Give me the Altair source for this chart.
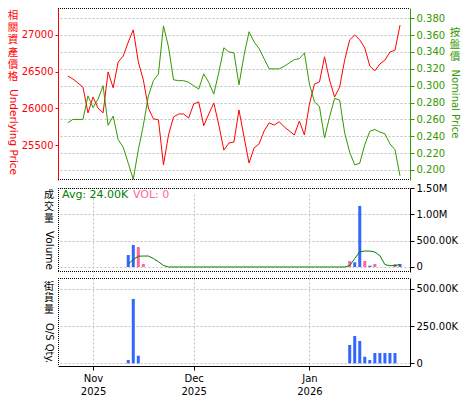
import altair as alt
import pandas as pd

# ---------------- data (weekday index 0 = 27 Oct 2025) ----------------
DAYS = list(range(67))
UNDERLYING = [26440, 26400, 26345, 26290, 25940, 26155, 26005, 25940, 26495, 26280,
              26630, 26710, 26900, 27065, 26630, 26385, 26005, 25860, 25845, 25235,
              25640, 25885, 25925, 25925, 25870, 26060, 26090, 25765, 25925, 26075,
              25775, 25435, 25530, 25545, 25980, 25615, 25260, 25465, 25520, 25695,
              25805, 25775, 25820, 25750, 25695, 25640, 25830, 25640, 26060, 26330,
              26360, 26700, 26385, 26155, 26290, 26655, 26930, 26995, 26930, 26820,
              26575, 26510, 26605, 26655, 26765, 26790, 27130]
NOMINAL = [0.256, 0.260, 0.260, 0.260, 0.288, 0.274, 0.284, 0.300, 0.253, 0.264,
           0.236, 0.227, 0.208, 0.189, 0.224, 0.253, 0.288, 0.306, 0.314, 0.371,
           0.346, 0.307, 0.306, 0.306, 0.304, 0.300, 0.296, 0.314, 0.304, 0.290,
           0.316, 0.345, 0.340, 0.339, 0.301, 0.336, 0.364, 0.352, 0.344, 0.332,
           0.320, 0.320, 0.320, 0.323, 0.327, 0.331, 0.332, 0.339, 0.302, 0.281,
           0.275, 0.238, 0.263, 0.285, 0.283, 0.244, 0.221, 0.206, 0.208, 0.230,
           0.246, 0.248, 0.245, 0.243, 0.231, 0.224, 0.193]

VOL_DAYS = [12, 13, 14, 15, 56, 57, 58, 59, 60, 61, 65, 66]
VOL_VALUES = [227000, 417000, 379000, 57000, 114000, 89000, 1160000, 114000, 25000, 57000, 57000, 57000]
VOL_DIR = ["up", "up", "down", "down", "down", "up", "up", "down", "up", "down", "down", "up"]

AVG_DAYS = list(range(12, 67))
AVG_VALUES = [57000, 140000, 205000, 208000, 208000, 161000, 100000, 30000] + [0] * 36 + \
             [28000, 160000, 290000, 303000, 303000, 284000, 215000, 45000, 25000, 25000, 50000]

QTY_DAYS = [12, 13, 14, 56, 57, 58, 59, 60, 61, 62, 63, 64, 65]
QTY_VALUES = [22000, 433000, 51000, 123000, 184000, 150000, 44000, 22000, 69000, 69000, 69000, 69000, 69000]

MONTH_TICKS = [5, 25, 48]
MONTH_LABELS = [["Nov", "2025"], ["Dec", "2025"], ["Jan", "2026"]]
UNDERLYING_TICKS = [25500, 26000, 26500, 27000]
NOMINAL_TICKS = [0.20, 0.22, 0.24, 0.26, 0.28, 0.30, 0.32, 0.34, 0.36, 0.38]
VOL_TICKS = [0, 500000, 1000000, 1500000]
VOL_TICK_LABELS = ["0", "500.00K", "1.00M", "1.50M"]
QTY_TICKS = [0, 250000, 500000]
QTY_TICK_LABELS = ["0", "250.00K", "500.00K"]

TITLE_LEFT_ZH, TITLE_LEFT_EN = "相關資產價格", "Underlying Price"
TITLE_RIGHT_ZH, TITLE_RIGHT_EN = "按盤價", "Nominal Price"
TITLE_VOL_ZH, TITLE_VOL_EN = "成交量", "Volume"
TITLE_QTY_ZH, TITLE_QTY_EN = "街貨量", "O/S Qty."
AVG_TEXT = "Avg: 24.00K"
VOL_TEXT = "VOL: 0"

# ---------------- styling ----------------
RED = "#ff0000"
GREEN = "#339900"
DARKGREEN = "#008000"
BLUE = "#3366ff"
PINK = "#ff6699"
GRID = "#c0c0c0"
FONT = "DejaVu Sans"
CJK = "Liberation Sans, Noto Sans CJK TC"
W, H = 352, 358


def label_expr(vals, labels):
    expr = repr(labels[-1])
    for v, l in zip(reversed(vals[:-1]), reversed(labels[:-1])):
        expr = f"datum.value == {v} ? {l!r} : " + expr
    return expr


main = pd.DataFrame({"day": DAYS, "underlying": UNDERLYING, "nominal": NOMINAL})
vol = pd.DataFrame({"day": VOL_DAYS, "vol": VOL_VALUES, "dir": VOL_DIR})
avg = pd.DataFrame({"day": AVG_DAYS, "avg": AVG_VALUES})
qty = pd.DataFrame({"day": QTY_DAYS, "qty": QTY_VALUES})
one = pd.DataFrame({"k": [0]})

X = alt.X("day:Q",
          scale=alt.Scale(domain=[-0.965, 66.99], nice=False, zero=False),
          axis=alt.Axis(values=MONTH_TICKS, labelExpr=label_expr(MONTH_TICKS, MONTH_LABELS),
                        title=None, grid=True, gridDash=[2, 2], gridColor=GRID,
                        domainColor="black", tickColor="black", tickSize=4,
                        labelColor="black", labelPadding=3, labelLineHeight=13,
                        labelOverlap=False, labelFlush=False))

red = alt.Chart(main).mark_line(color=RED, strokeWidth=1).encode(
    x=X,
    y=alt.Y("underlying:Q",
            scale=alt.Scale(domain=[25030, 27362], range=[172, 0], nice=False, zero=False),
            axis=alt.Axis(orient="left", values=UNDERLYING_TICKS, format="d", title=None,
                          grid=False, domainColor=RED, tickColor=RED, labelColor=RED,
                          tickSize=3, labelPadding=2)))

green = alt.Chart(main).mark_line(color=GREEN, strokeWidth=1).encode(
    x=X,
    y=alt.Y("nominal:Q",
            scale=alt.Scale(domain=[0.1881, 0.3922], range=[172, 0], nice=False, zero=False),
            axis=alt.Axis(orient="right", values=NOMINAL_TICKS, format=".3f", title=None,
                          grid=True, gridDash=[2, 2], gridColor=GRID,
                          domainColor=GREEN, tickColor=GREEN, labelColor=GREEN,
                          tickSize=4, labelPadding=2)))

VOL_SCALE = alt.Scale(domain=[-95000, 1500000], range=[264, 180], nice=False, zero=False)
bars_vol = alt.Chart(vol).mark_bar(size=3).encode(
    x=X,
    y=alt.Y("vol:Q", scale=VOL_SCALE,
            axis=alt.Axis(orient="right", values=VOL_TICKS,
                          labelExpr=label_expr(VOL_TICKS, VOL_TICK_LABELS), title=None,
                          grid=True, gridDash=[2, 2], gridColor=GRID,
                          domainColor="black", tickColor="black", labelColor="black",
                          tickSize=4, labelPadding=2)),
    color=alt.Color("dir:N", scale=alt.Scale(domain=["up", "down"], range=[BLUE, PINK]), legend=None))

avg_line = alt.Chart(avg).mark_line(color=DARKGREEN, strokeWidth=1).encode(
    x=X,
    y=alt.Y("avg:Q", scale=VOL_SCALE, axis=None))

bars_qty = alt.Chart(qty).mark_bar(size=3, color=BLUE).encode(
    x=X,
    y=alt.Y("qty:Q",
            scale=alt.Scale(domain=[-18200, 574000], range=[358, 270], nice=False, zero=False),
            axis=alt.Axis(orient="right", values=QTY_TICKS,
                          labelExpr=label_expr(QTY_TICKS, QTY_TICK_LABELS), title=None,
                          grid=True, gridDash=[2, 2], gridColor=GRID,
                          domainColor="black", tickColor="black", labelColor="black",
                          tickSize=4, labelPadding=2)))


def hrule(y, x0=0, x1=W):
    return alt.Chart(one).mark_rule(color="black", strokeDash=[1, 1], strokeWidth=1).encode(
        x=alt.value(x0), x2=alt.value(x1), y=alt.value(y))


def vrule(x, y0, y1):
    return alt.Chart(one).mark_rule(color="black", strokeDash=[1, 1], strokeWidth=1).encode(
        x=alt.value(x), y=alt.value(y0), y2=alt.value(y1))


def zh(text, x, y, color, lh=12.2, size=10.5):
    return alt.Chart(one).mark_text(text=list(text), font=CJK, fontSize=size, color=color,
                                     align="center", baseline="top", lineHeight=lh).encode(
        x=alt.value(x), y=alt.value(y))


def en(text, x, y, color, size=11):
    return alt.Chart(one).mark_text(text=text, font=FONT, fontSize=size, color=color,
                                     align="center", baseline="middle", angle=90).encode(
        x=alt.value(x), y=alt.value(y))


def plain(text, x, y, color, size=11):
    return alt.Chart(one).mark_text(text=text, font=FONT, fontSize=size, color=color,
                                     align="left", baseline="middle").encode(
        x=alt.value(x), y=alt.value(y))


decor = [
    hrule(0.5), hrule(171.5), hrule(180.5), hrule(263.5), hrule(270.5),
    vrule(0.5, 180, 264), vrule(0.5, 270, 358),
    zh(TITLE_LEFT_ZH, -45, 3, RED), en(TITLE_LEFT_EN, -45, 124, RED, 10.5),
    zh(TITLE_RIGHT_ZH, 397, 19.5, GREEN), en(TITLE_RIGHT_EN, 397, 96, GREEN, 10),
    zh(TITLE_VOL_ZH, -9, 182, "black", lh=11.8, size=10),
    en(TITLE_VOL_EN, -9, 242.5, "black", 10.5),
    zh(TITLE_QTY_ZH, -9, 273.5, "black", lh=11.8, size=10),
    en(TITLE_QTY_EN, -9, 335, "black", 10),
    plain(AVG_TEXT, 4, 186.5, DARKGREEN), plain(VOL_TEXT, 75, 186.5, PINK),
]

chart = alt.layer(red, green, bars_vol, avg_line, bars_qty, *decor).resolve_scale(
    y="independent").resolve_axis(y="independent").properties(
    width=W, height=H,
    autosize=alt.AutoSizeParams(type="none"),
    padding={"left": 50, "top": 0, "right": 57, "bottom": 34},
).configure_view(stroke=None).configure_axis(
    labelFont=FONT, labelFontSize=10)

chart.save("out.html", embed_options={"renderer": "svg", "actions": False})
